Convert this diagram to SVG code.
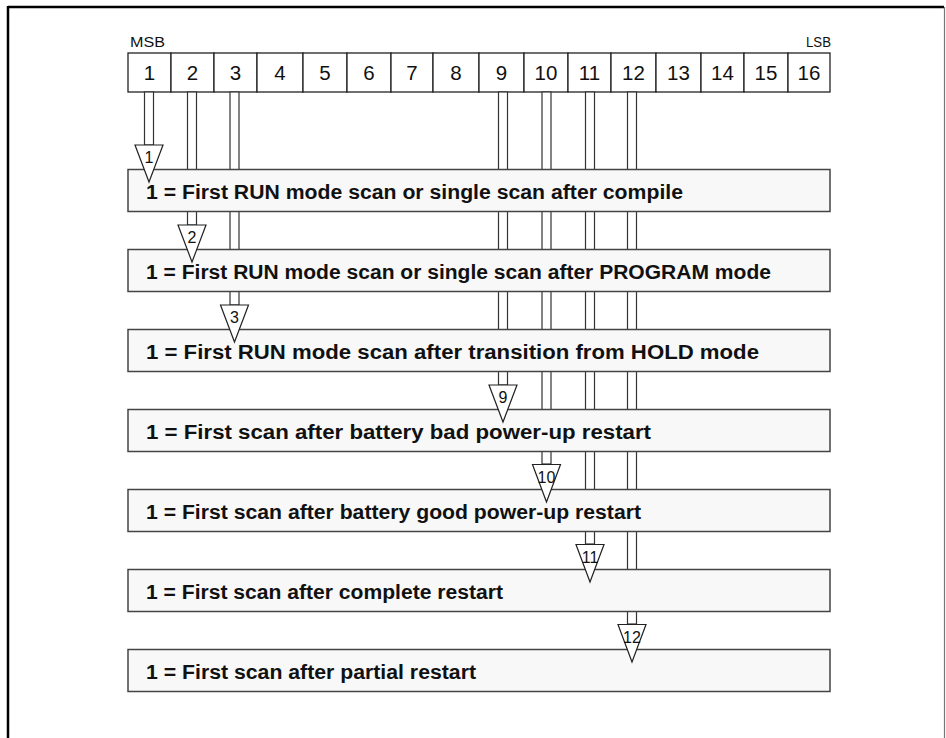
<svg xmlns="http://www.w3.org/2000/svg" width="946" height="738" viewBox="0 0 946 738">
<style>
.cell{fill:#ffffff;stroke:#222;stroke-width:1.3}
.num{font-family:"Liberation Sans",Arial,sans-serif;font-size:20.5px;fill:#111;text-anchor:middle}
.lbl{font-family:"Liberation Sans",Arial,sans-serif;font-size:14px;fill:#111}
.box{fill:#f8f8f8;stroke:#444;stroke-width:1.5}
.txt{font-family:"Liberation Sans",Arial,sans-serif;font-size:20px;font-weight:bold;fill:#111}
.shaft{fill:#ffffff;stroke:#333;stroke-width:1.2}
.head{fill:#ffffff;stroke:#222;stroke-width:1.2;stroke-linejoin:miter}
.an{font-family:"Liberation Sans",Arial,sans-serif;font-size:16px;fill:#111;text-anchor:middle}
</style>
<rect width="946" height="738" fill="#ffffff"/>
<g id="frame">
<line x1="8" y1="7" x2="944" y2="7" stroke="#000" stroke-width="2.5"/>
<line x1="8" y1="6" x2="8" y2="738" stroke="#000" stroke-width="2.5"/>
<line x1="944.5" y1="7" x2="944.5" y2="738" stroke="#777" stroke-width="1.2"/>
</g>
<g id="register">
<text class="lbl" x="130" y="47" textLength="35" lengthAdjust="spacingAndGlyphs">MSB</text>
<text class="lbl" x="806" y="47" textLength="25" lengthAdjust="spacingAndGlyphs">LSB</text>
<rect class="cell" x="128" y="53" width="43" height="39"/><text class="num" x="149.5" y="79.5">1</text>
<rect class="cell" x="171" y="53" width="43" height="39"/><text class="num" x="192.5" y="79.5">2</text>
<rect class="cell" x="214" y="53" width="43" height="39"/><text class="num" x="235.5" y="79.5">3</text>
<rect class="cell" x="257" y="53" width="46" height="39"/><text class="num" x="280" y="79.5">4</text>
<rect class="cell" x="303" y="53" width="44" height="39"/><text class="num" x="325" y="79.5">5</text>
<rect class="cell" x="347" y="53" width="44" height="39"/><text class="num" x="369" y="79.5">6</text>
<rect class="cell" x="391" y="53" width="42" height="39"/><text class="num" x="412" y="79.5">7</text>
<rect class="cell" x="433" y="53" width="46" height="39"/><text class="num" x="456" y="79.5">8</text>
<rect class="cell" x="479" y="53" width="45" height="39"/><text class="num" x="501.5" y="79.5">9</text>
<rect class="cell" x="524" y="53" width="44" height="39"/><text class="num" x="546" y="79.5">10</text>
<rect class="cell" x="568" y="53" width="43" height="39"/><text class="num" x="589.5" y="79.5">11</text>
<rect class="cell" x="611" y="53" width="45" height="39"/><text class="num" x="633.5" y="79.5">12</text>
<rect class="cell" x="656" y="53" width="45" height="39"/><text class="num" x="678.5" y="79.5">13</text>
<rect class="cell" x="701" y="53" width="43" height="39"/><text class="num" x="722.5" y="79.5">14</text>
<rect class="cell" x="744" y="53" width="44" height="39"/><text class="num" x="766" y="79.5">15</text>
<rect class="cell" x="788" y="53" width="42" height="39"/><text class="num" x="809" y="79.5">16</text>
</g>
<g id="connectors">
<rect class="shaft" x="144.5" y="92" width="9" height="53"/>
<rect class="shaft" x="187.5" y="92" width="9" height="133"/>
<rect class="shaft" x="230" y="92" width="9" height="213"/>
<rect class="shaft" x="498.5" y="92" width="9" height="293"/>
<rect class="shaft" x="542" y="92" width="9" height="372"/>
<rect class="shaft" x="585.5" y="92" width="9" height="452"/>
<rect class="shaft" x="627.5" y="92" width="9" height="532"/>
</g>
<g id="row1"><rect class="box" x="128" y="169.5" width="702" height="42"/><text class="txt" x="146" y="199" textLength="537" lengthAdjust="spacingAndGlyphs">1 = First RUN mode scan or single scan after compile</text></g>
<g id="row2"><rect class="box" x="128" y="249.5" width="702" height="42"/><text class="txt" x="146" y="279" textLength="625" lengthAdjust="spacingAndGlyphs">1 = First RUN mode scan or single scan after PROGRAM mode</text></g>
<g id="row3"><rect class="box" x="128" y="329.5" width="702" height="42"/><text class="txt" x="146" y="359" textLength="613" lengthAdjust="spacingAndGlyphs">1 = First RUN mode scan after transition from HOLD mode</text></g>
<g id="row4"><rect class="box" x="128" y="409.5" width="702" height="42"/><text class="txt" x="146" y="439" textLength="505" lengthAdjust="spacingAndGlyphs">1 = First scan after battery bad power-up restart</text></g>
<g id="row5"><rect class="box" x="128" y="489.5" width="702" height="42"/><text class="txt" x="146" y="519" textLength="495" lengthAdjust="spacingAndGlyphs">1 = First scan after battery good power-up restart</text></g>
<g id="row6"><rect class="box" x="128" y="569.5" width="702" height="42"/><text class="txt" x="146" y="599" textLength="357" lengthAdjust="spacingAndGlyphs">1 = First scan after complete restart</text></g>
<g id="row7"><rect class="box" x="128" y="649.5" width="702" height="42"/><text class="txt" x="146" y="679" textLength="330" lengthAdjust="spacingAndGlyphs">1 = First scan after partial restart</text></g>
<g id="arrowheads">
<g id="a1"><polygon class="head" points="135,145 163,145 149,182"/><text class="an" x="149" y="163">1</text></g>
<g id="a2"><polygon class="head" points="178,225 206,225 192,262"/><text class="an" x="192" y="243">2</text></g>
<g id="a3"><polygon class="head" points="220.5,305 248.5,305 234.5,342"/><text class="an" x="234.5" y="323">3</text></g>
<g id="a9"><polygon class="head" points="489,385 517,385 503,422"/><text class="an" x="503" y="403">9</text></g>
<g id="a10"><polygon class="head" points="532.5,464.5 560.5,464.5 546.5,502"/><text class="an" x="546.5" y="483">10</text></g>
<g id="a11"><polygon class="head" points="576,544.5 604,544.5 590,582"/><text class="an" x="590" y="563">11</text></g>
<g id="a12"><polygon class="head" points="618,624.5 646,624.5 632,662"/><text class="an" x="632" y="643">12</text></g>
</g>
</svg>
